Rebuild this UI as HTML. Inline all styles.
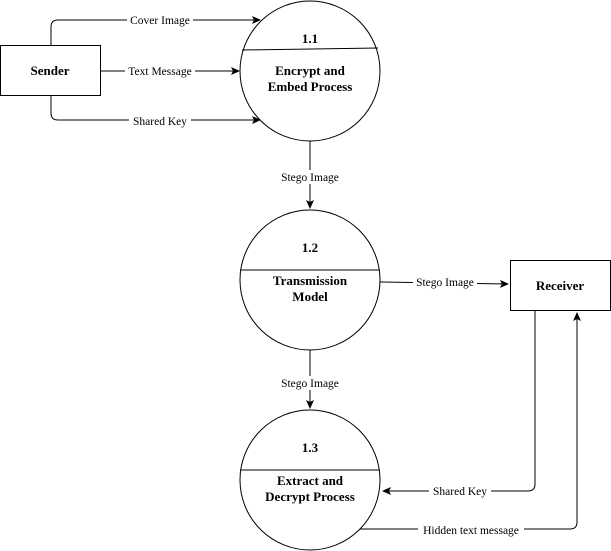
<!DOCTYPE html>
<html><head><meta charset="utf-8"><style>
html,body{margin:0;padding:0;background:#fff;}
svg{display:block;}
text{font-family:"Liberation Serif","DejaVu Serif","Noto Serif CJK SC",serif;}
.n{font-size:13px;font-weight:bold;text-anchor:middle;}
.e{font-size:11.5px;text-anchor:middle;}
</style></head><body>
<svg width="611" height="551" viewBox="0 0 611 551" xmlns="http://www.w3.org/2000/svg">
<defs><marker id="a" markerWidth="10" markerHeight="10" refX="8" refY="4" orient="auto" markerUnits="userSpaceOnUse"><path d="M0,0 L9,4 L0,8 L2,4 Z" fill="#000"/></marker></defs>
<g fill="none" stroke="#000" stroke-width="1">
<rect x="0.5" y="45.5" width="100" height="50" fill="#fff"/>
<rect x="510.5" y="260.5" width="100" height="50" fill="#fff"/>
<circle cx="310" cy="71" r="70"/>
<line x1="242" y1="50" x2="378" y2="48"/>
<circle cx="310" cy="280" r="70"/>
<line x1="240" y1="270" x2="380" y2="270"/>
<circle cx="310" cy="480" r="70"/>
<line x1="240" y1="470" x2="380" y2="470"/>
<path d="M51,45 V27 Q51,20 58,20 H260" marker-end="url(#a)"/>
<path d="M101,71 H239" marker-end="url(#a)"/>
<path d="M51,96 V113 Q51,120 58,120 H260" marker-end="url(#a)"/>
<path d="M310,141 V208" marker-end="url(#a)"/>
<path d="M310,350 V408" marker-end="url(#a)"/>
<path d="M380,282 L508,284" marker-end="url(#a)"/>
<path d="M535,311 V484 Q535,491 528,491 H383" marker-end="url(#a)"/>
<path d="M360,529 H570 Q577,529 577,522 V313" marker-end="url(#a)"/>
</g>
<g fill="#fff">
<rect x="127" y="13" width="66" height="14"/>
<rect x="125" y="64" width="70" height="14"/>
<rect x="129" y="113" width="62" height="14"/>
<rect x="278" y="170" width="64" height="14"/>
<rect x="278" y="376" width="64" height="14"/>
<rect x="413" y="275" width="64" height="14"/>
<rect x="429" y="484" width="62" height="14"/>
<rect x="418" y="522" width="106" height="14"/>
</g>
<text class="e" x="160" y="24">Cover Image</text>
<text class="e" x="160" y="75">Text Message</text>
<text class="e" x="160" y="125">Shared Key</text>
<text class="e" x="310" y="181">Stego Image</text>
<text class="e" x="310" y="387">Stego Image</text>
<text class="e" x="445" y="286">Stego Image</text>
<text class="e" x="460" y="495">Shared Key</text>
<text class="e" x="471" y="534">Hidden text message</text>
<text class="n" x="50" y="75">Sender</text>
<text class="n" x="560" y="290">Receiver</text>
<text class="n" x="310" y="43">1.1</text>
<text class="n" x="310" y="75">Encrypt and</text>
<text class="n" x="310" y="91">Embed Process</text>
<text class="n" x="310" y="252">1.2</text>
<text class="n" x="310" y="285">Transmission</text>
<text class="n" x="310" y="301">Model</text>
<text class="n" x="310" y="452">1.3</text>
<text class="n" x="310" y="485">Extract and</text>
<text class="n" x="310" y="501">Decrypt Process</text>
</svg>
</body></html>
